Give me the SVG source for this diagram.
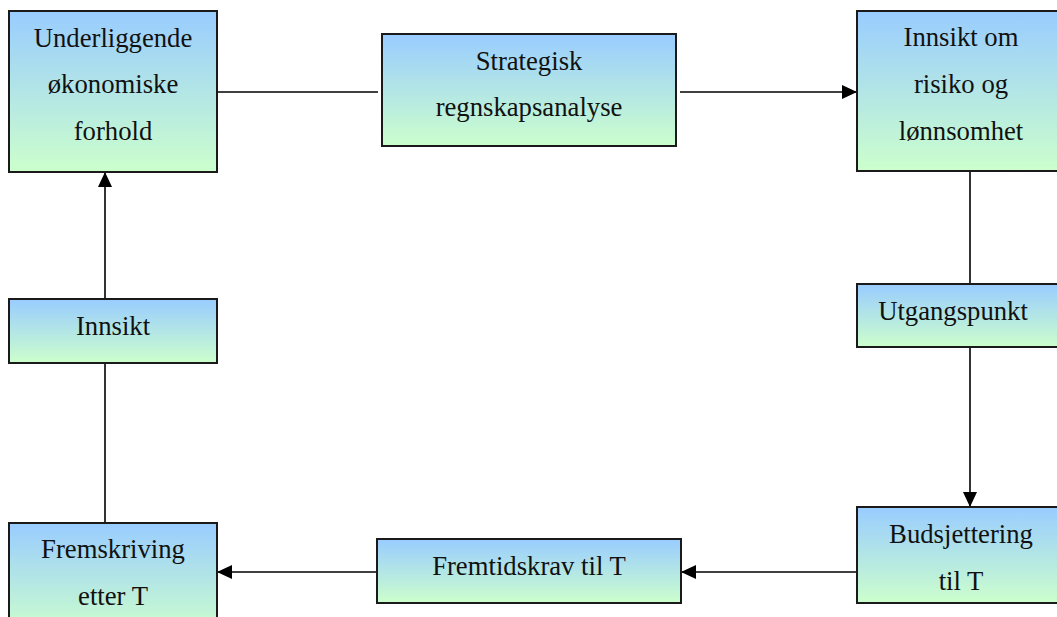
<svg xmlns="http://www.w3.org/2000/svg" width="1057" height="617" viewBox="0 0 1057 617">
  <defs>
    <linearGradient id="boxFill" x1="0" y1="0" x2="0" y2="1">
      <stop offset="0" stop-color="#99CCFF"/>
      <stop offset="1" stop-color="#CCFFCC"/>
    </linearGradient>
    <marker id="arrow" markerUnits="userSpaceOnUse" markerWidth="16" markerHeight="14" refX="15" refY="7" orient="auto">
      <path d="M0,0 L15,7 L0,14 Z" fill="#000"/>
    </marker>
    <style>
      .box { fill: url(#boxFill); stroke: #1a1a1a; stroke-width: 2; }
      .label { font-family: "Liberation Serif", "Times New Roman", serif; font-size: 26.7px; fill: #111; text-anchor: middle; }
      .conn { fill: none; stroke: #000; stroke-width: 1.6; }
      .arr { marker-end: url(#arrow); }
    </style>
  </defs>

  <rect width="1057" height="617" fill="#fff"/>

  <!-- connectors -->
  <g id="connectors">
    <path class="conn" d="M217,92 H378"/>
    <path class="conn arr" d="M680,92 H857"/>
    <path class="conn" d="M970,171 V284"/>
    <path class="conn arr" d="M970,347 V507"/>
    <path class="conn arr" d="M857,572 H681"/>
    <path class="conn arr" d="M377,572 H217"/>
    <path class="conn" d="M105,523 V363"/>
    <path class="conn arr" d="M105,299 V172"/>
  </g>

  <g id="underliggende">
    <rect class="box" x="9" y="11" width="208" height="161"/>
    <text class="label" x="113" y="47">Underliggende</text>
    <text class="label" x="113" y="93">økonomiske</text>
    <text class="label" x="113" y="140">forhold</text>
  </g>

  <g id="strategisk">
    <rect class="box" x="382" y="34" width="294" height="112"/>
    <text class="label" x="529" y="70">Strategisk</text>
    <text class="label" x="529" y="116">regnskapsanalyse</text>
  </g>

  <g id="innsikt-risiko">
    <rect class="box" x="857" y="11" width="208" height="160"/>
    <text class="label" x="961" y="46">Innsikt om</text>
    <text class="label" x="961" y="93">risiko og</text>
    <text class="label" x="961" y="140">lønnsomhet</text>
  </g>

  <g id="utgangspunkt">
    <rect class="box" x="857" y="284" width="208" height="63"/>
    <text class="label" x="953" y="320">Utgangspunkt</text>
  </g>

  <g id="budsjettering">
    <rect class="box" x="857" y="507" width="208" height="96"/>
    <text class="label" x="961" y="543">Budsjettering</text>
    <text class="label" x="961" y="590">til T</text>
  </g>

  <g id="fremtidskrav">
    <rect class="box" x="377" y="539" width="304" height="64"/>
    <text class="label" x="529" y="575">Fremtidskrav til T</text>
  </g>

  <g id="fremskriving">
    <rect class="box" x="9" y="523" width="208" height="110"/>
    <text class="label" x="113" y="558">Fremskriving</text>
    <text class="label" x="113" y="605">etter T</text>
  </g>

  <g id="innsikt">
    <rect class="box" x="9" y="299" width="208" height="64"/>
    <text class="label" x="113" y="335">Innsikt</text>
  </g>
</svg>
